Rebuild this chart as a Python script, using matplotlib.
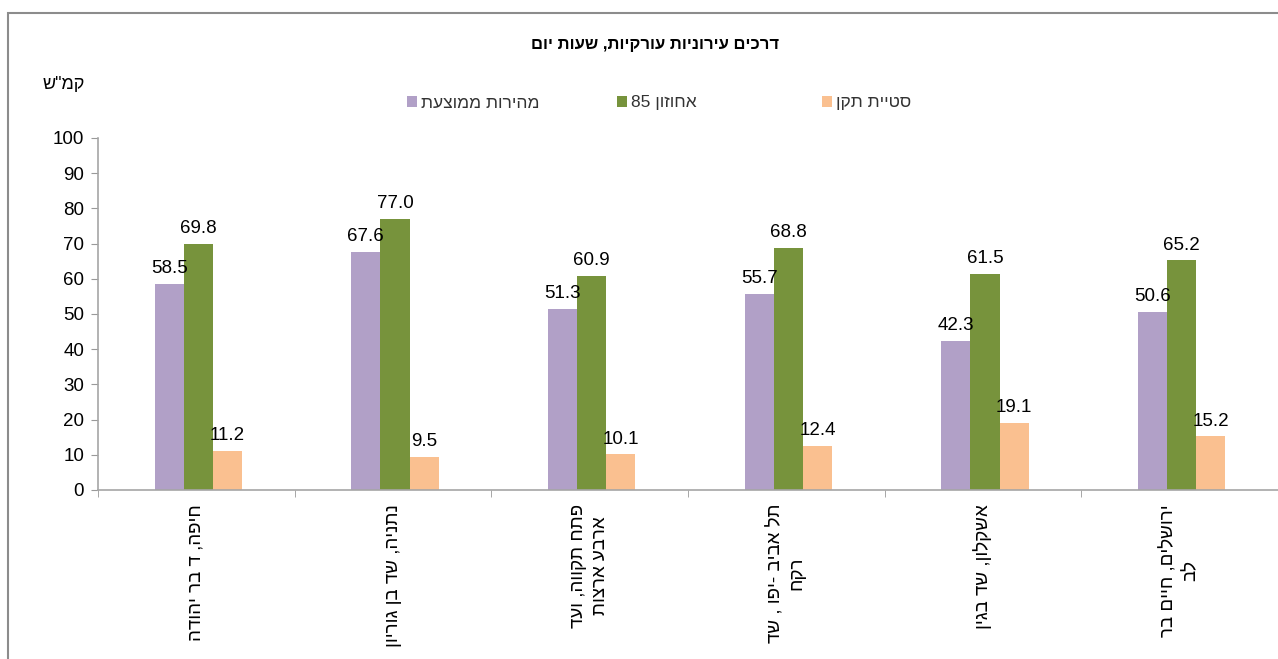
import re
import numpy as np
import matplotlib
matplotlib.use('Agg')
import matplotlib.pyplot as plt
from matplotlib.patches import Rectangle

plt.rcParams['font.family'] = ['Liberation Sans', 'DejaVu Sans']


def rtl(s):
    # matplotlib has no bidi support: flip Hebrew lines, keep numbers readable
    out = []
    for line in s.split('\n'):
        r = line[::-1]
        r = re.sub(r'\d+(\.\d+)?', lambda m: m.group(0)[::-1], r)
        out.append(r)
    return '\n'.join(out)


# data
categories = ['חיפה, ד בר יהודה',
              'נתניה, שד בן גוריון',
              'פתח תקווה, ועד\nארבע ארצות',
              'תל אביב -יפו , שד\nרקח',
              'אשקלון, שד בגין',
              'ירושלים, חיים בר\nלב']
avg_speed = [58.5, 67.6, 51.3, 55.7, 42.3, 50.6]
pct85 = [69.8, 77.0, 60.9, 68.8, 61.5, 65.2]
std_dev = [11.2, 9.5, 10.1, 12.4, 19.1, 15.2]
series_names = ['מהירות ממוצעת', 'אחוזון 85', 'סטיית תקן']
colors = ['#B1A0C7', '#77933C', '#FAC090']

W, H = 1278, 659
fig = plt.figure(figsize=(W / 100, H / 100), dpi=100)
ax = fig.add_axes([98 / W, 1 - 490 / H, (W - 98) / W, (490 - 138) / H])

x = np.arange(len(categories))
barWidth = 0.148
bars = []
for i, vals in enumerate([avg_speed, pct85, std_dev]):
    b = ax.bar(x + (i - 1) * barWidth + 0.01, vals, width=barWidth,
               color=colors[i], label=rtl(series_names[i]))
    bars.append(b)
    for p in b:
        h = p.get_height()
        ax.annotate('{:.1f}'.format(h), (p.get_x() + p.get_width() / 2, h),
                    xytext=(0, 5), textcoords='offset points',
                    ha='center', va='bottom', fontsize=13.5, color='black')

ax.set_xlim(-0.5, len(categories) - 0.5)
ax.set_ylim(0, 100)
ax.set_yticks(np.arange(0, 101, 10))
ax.set_xticks(x)
ax.set_xticklabels([rtl(c) for c in categories], rotation=90, fontsize=13.5,
                   va='top', ha='center', multialignment='center',
                   linespacing=1.35)
ax.set_xticks(np.arange(-0.5, len(categories)), minor=True)
ax.tick_params(axis='x', which='major', length=0, pad=10)
ax.tick_params(axis='x', which='minor', length=5, color='#999999')
ax.tick_params(axis='y', length=5, color='#999999', labelsize=13.5, pad=5)

for s in ['top', 'right']:
    ax.spines[s].set_visible(False)
for s in ['left', 'bottom']:
    ax.spines[s].set_color('#A6A6A6')
    ax.spines[s].set_linewidth(1.2)

# legend entries, spaced like the original
leg_x = [391, 601, 806]
for i, b in enumerate(bars):
    fig.legend(handles=[b], loc='center left',
               bbox_to_anchor=(leg_x[i] / W, 1 - 103 / H),
               frameon=False, fontsize=12.5, handlelength=0.6,
               handleheight=0.6, handletextpad=0.2, labelcolor='#333333')

fig.text(655 / W, 1 - 45 / H, rtl('דרכים עירוניות עורקיות, שעות יום'),
         ha='center', va='center', fontsize=12, fontweight='bold')
fig.text(64 / W, 1 - 85 / H, rtl('קמ"ש'), ha='center', va='center',
         fontsize=13)

# outer chart frame
fig.patches.append(Rectangle((8 / W, -0.1), 1.2, 1.1 - 13 / H,
                             transform=fig.transFigure, fill=False,
                             edgecolor='#8C8C8C', lw=1.5))

fig.savefig('out.png', dpi=100)
